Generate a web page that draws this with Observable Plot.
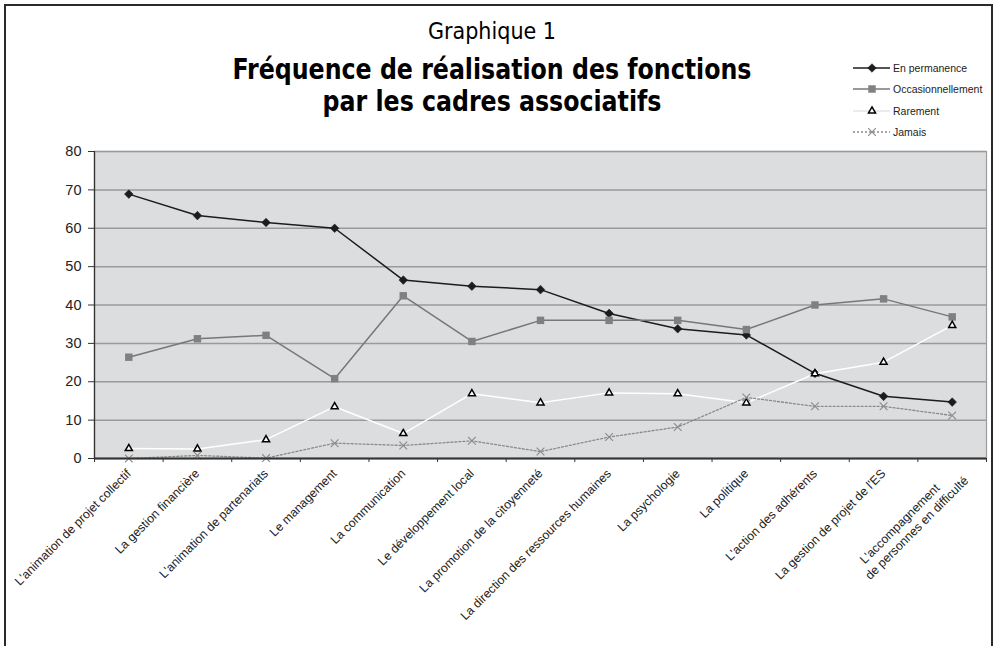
<!DOCTYPE html>
<html>
<head>
<meta charset="utf-8">
<script src="https://cdn.jsdelivr.net/npm/d3@7"></script>
<script src="https://cdn.jsdelivr.net/npm/@observablehq/plot@0.6"></script>
<style>
  html, body { margin: 0; padding: 0; background: #fff; }
  #wrap { position: relative; width: 994px; height: 646px; overflow: hidden; background: #fff; font-family: "Liberation Sans", Arial, sans-serif; }
  #frame { position: absolute; left: 4px; top: 4px; width: 985px; height: 720px; border: 2px solid #2a2a2a; }
  #title { position: absolute; left: 0; top: 18px; width: 984px; text-align: center; color: #000;
           font-family: "Liberation Sans Narrow", "Arial Narrow", "DejaVu Sans Condensed", sans-serif; }
  #title .t1 { font-size: 23px; line-height: 26px; }
  #title .t2 { font-size: 28px; line-height: 32px; font-weight: bold; margin-top: 10px; transform: scaleX(0.94); transform-origin: 50% 50%; }
  #chart { position: absolute; left: 0; top: 0; }
  #legend { position: absolute; left: 853px; top: 57px; font-size: 10.5px; color: #222; }
  #legend .row { display: flex; align-items: center; height: 21.5px; }
  #legend svg { display: block; margin-right: 2px; }
</style>
</head>
<body>
<div id="wrap">
  <div id="frame"></div>
  <div id="chart"></div>
  <div id="title">
    <div class="t1">Graphique 1</div>
    <div class="t2">Fréquence de réalisation des fonctions<br>par les cadres associatifs</div>
  </div>
  <div id="legend"></div>
</div>
<script>
// ---- Data ----
const categories = [
  "L'animation de projet collectif",
  "La gestion financière",
  "L'animation de partenariats",
  "Le management",
  "La communication",
  "Le développement local",
  "La promotion de la citoyenneté",
  "La direction des ressources humaines",
  "La psychologie",
  "La politique",
  "L'action des adhérents",
  "La gestion de projet de l'ES",
  "L'accompagnement\nde personnes en difficulté"
];
const seriesNames = ["En permanence", "Occasionnellement", "Rarement", "Jamais"];
const enPermanence      = [68.9, 63.3, 61.5, 60.0, 46.5, 44.9, 44.0, 37.8, 33.8, 32.2, 22.2, 16.2, 14.7];
const occasionnellement = [26.4, 31.2, 32.1, 20.8, 42.4, 30.5, 36.0, 36.0, 36.0, 33.6, 40.0, 41.6, 36.9];
const rarement          = [2.6, 2.5, 4.9, 13.5, 6.5, 16.9, 14.5, 17.1, 16.9, 14.5, 22.1, 25.1, 34.7];
const jamais            = [0.0, 0.8, 0.1, 4.0, 3.4, 4.6, 1.8, 5.6, 8.2, 15.9, 13.6, 13.6, 11.2];
const yTicks = [0, 10, 20, 30, 40, 50, 60, 70, 80];

// ---- Styles per series ----
const styles = [
  {line: "#1c1c1c", width: 1.5, dash: null, symbol: "diamond2", r: 3.9, fill: "#1c1c1c", stroke: "#1c1c1c", sw: 0.5},
  {line: "#777777", width: 1.5, dash: null, symbol: "square", r: 4.2, fill: "#808080", stroke: "none", sw: 0},
  {line: "#ffffff", width: 1.5, dash: null, symbol: "triangle2", r: 3.4, fill: "#ffffff", stroke: "#000", sw: 1.5},
  {line: "#8a8a8a", width: 1.3, dash: "2,2", symbol: "times", r: 3.6, fill: "none", stroke: "#8a8a8a", sw: 1.1}
];
const valuesList = [enPermanence, occasionnellement, rarement, jamais];
const series = seriesNames.map((name, k) => ({
  name, style: styles[k],
  data: valuesList[k].map((v, i) => ({i: i + 0.5, v, cat: categories[i]}))
}));

const seriesMarks = [];
for (const s of series) {
  const st = s.style;
  seriesMarks.push(Plot.line(s.data, {x: "i", y: "v", stroke: st.line, strokeWidth: st.width, strokeDasharray: st.dash || undefined}));
  seriesMarks.push(Plot.dot(s.data, {x: "i", y: "v", symbol: st.symbol, r: st.r, fill: st.fill, stroke: st.stroke, strokeWidth: st.sw}));
}

// ---- Category labels: rotated; multi-line labels laid out line by line ----
const labelFontSize = 12.3;
const labelFont = `${labelFontSize}px 'Liberation Sans', Arial, sans-serif`;
const ctx = document.createElement("canvas").getContext("2d");
ctx.font = labelFont;
const baseDx = 0, baseDy = 13, lineStep = 15, extraAlong = 5, alignFactor = 0.78;
const c45 = Math.SQRT1_2;
const labelMarks = [];
categories.forEach((label, i) => {
  const lines = label.split("\n");
  const widths = lines.map(l => ctx.measureText(l).width);
  const wMax = Math.max(...widths);
  lines.forEach((line, j) => {
    let along = 0, down = 0;
    if (lines.length > 1) {
      along = extraAlong - (wMax - widths[j]) * alignFactor;
      down = j * lineStep;
    }
    labelMarks.push(Plot.text([{i: i + 0.5, t: line}], {
      x: "i", text: "t", frameAnchor: "bottom",
      rotate: -45, textAnchor: "end", lineAnchor: "middle",
      dx: baseDx + c45 * (along + down), dy: baseDy + c45 * (down - along),
      fontSize: labelFontSize, fill: "#222"
    }));
  });
});

const chart = Plot.plot({
  width: 994,
  height: 646,
  marginLeft: 94,
  marginRight: 8,
  marginTop: 151,
  marginBottom: 188,
  style: {background: "transparent", fontFamily: "'Liberation Sans', Arial, sans-serif", color: "#222"},
  x: {domain: [0, categories.length], axis: null, label: null},
  y: {domain: [0, 80], axis: null, label: null},
  marks: [
    Plot.frame({fill: "#dcdddf", stroke: "#9c9c9c", strokeWidth: 1.2}),
    Plot.gridY({ticks: yTicks, stroke: "#9a9a9a", strokeOpacity: 1, strokeWidth: 1.5}),
    Plot.axisY({ticks: yTicks, label: null, tickSize: 6, tickPadding: 7, fontSize: 14.5, stroke: "#333", tickFormat: d => d}),
    Plot.ruleX([0], {stroke: "#333", strokeWidth: 1.3}),
    Plot.axisX({ticks: d3.range(categories.length + 1), label: null, tickFormat: () => "", tickSize: 4, stroke: "#333"}),
    ...seriesMarks,
    Plot.ruleY([0], {stroke: "#333", strokeWidth: 2}),
    ...labelMarks
  ]
});
document.getElementById("chart").appendChild(chart);

// ---- Legend (HTML) ----
const legend = d3.select("#legend");
series.forEach(s => {
  const st = s.style;
  const row = legend.append("div").attr("class", "row");
  const svg = row.append("svg").attr("width", 38).attr("height", 12);
  svg.append("line").attr("x1", 0).attr("x2", 37).attr("y1", 6).attr("y2", 6)
    .attr("stroke", st.line === "#ffffff" ? "#e4e4e4" : st.line)
    .attr("stroke-width", st.width)
    .attr("stroke-dasharray", st.dash);
  const sym = {diamond2: d3.symbolDiamond2, square: d3.symbolSquare, triangle2: d3.symbolTriangle2, times: d3.symbolTimes}[st.symbol];
  svg.append("path").attr("transform", "translate(19,6)")
    .attr("d", d3.symbol(sym, Math.PI * st.r * st.r)())
    .attr("fill", st.fill).attr("stroke", st.stroke).attr("stroke-width", st.sw);
  row.append("span").text(s.name);
});
</script>
</body>
</html>
